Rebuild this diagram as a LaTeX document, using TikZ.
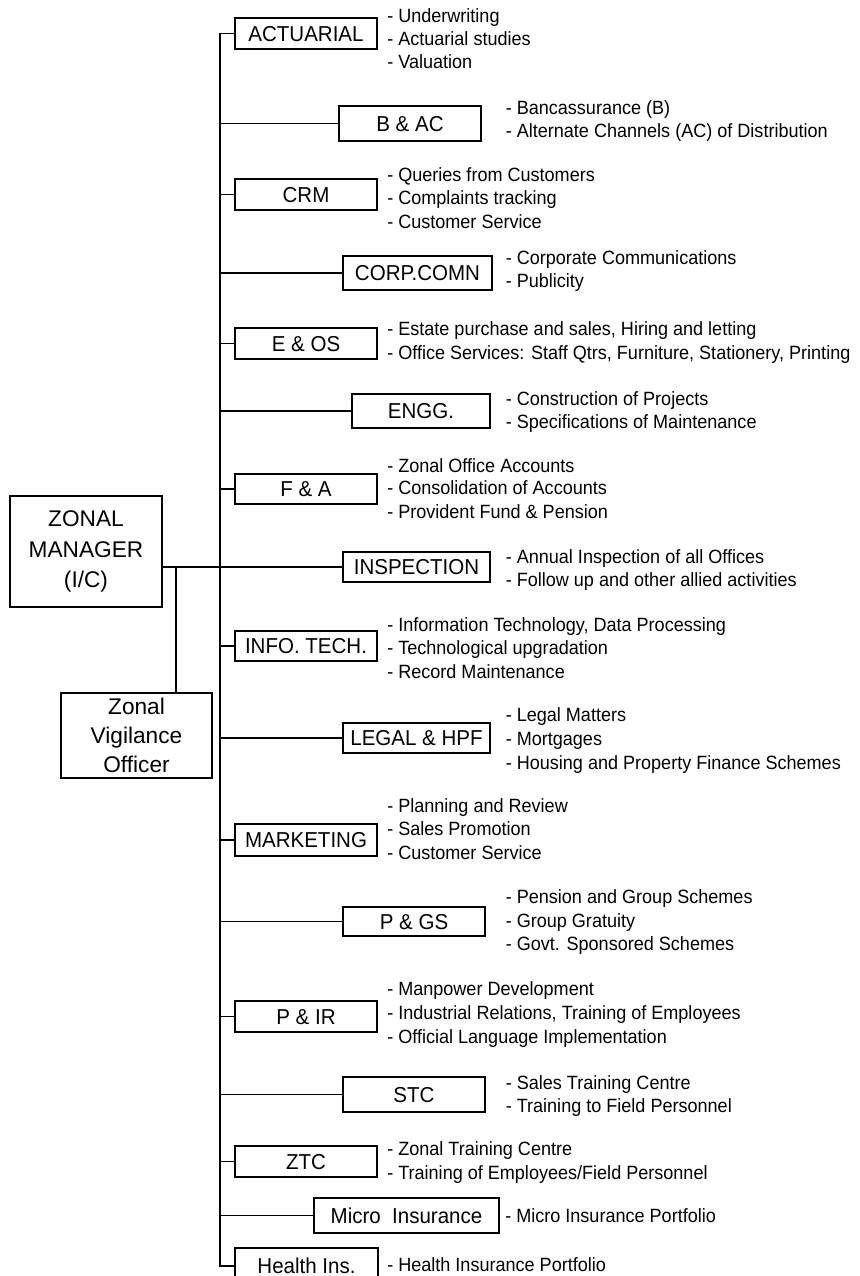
\documentclass[tikz,border=0pt]{standalone}
\usepackage{fontspec}
\setmainfont{Liberation Sans}
\newfontfamily\narrowsans[FakeStretch=0.94]{Liberation Sans}
\newfontfamily\unitsans[FakeStretch=0.95]{Liberation Sans}
\newcommand\boxfont{\unitsans\fontsize{16.2}{18}\selectfont}
\newcommand\bigfont{\fontsize{17}{22.6}\selectfont}
\newcommand\descfont{\narrowsans\fontsize{14.4}{16}\selectfont}
\begin{document}
\begin{tikzpicture}[x=0.75pt,y=-0.75pt,
  line/.style={line width=1.45pt,line join=miter},
  unit/.style={draw,line width=1.45pt,inner sep=0pt,font=\boxfont,
    text height=11.6pt,text depth=0pt,minimum width=142*0.75pt,minimum height=31*0.75pt},
  head/.style={draw,line width=1.45pt,inner sep=0pt,font=\bigfont,align=center},
  desc/.style={anchor=base west,inner sep=0pt,font=\descfont}]
\useasboundingbox (0,0) rectangle (859,1276);
\clip (0,0) rectangle (859,1276);

% heads
\node[head,minimum width=152*0.75pt,minimum height=111*0.75pt] (mgr) at (86,551.5) {ZONAL\\MANAGER\\(I/C)};
\node[head,minimum width=151*0.75pt,minimum height=85*0.75pt] (vig) at (136.5,735.5) {Zonal\\[-0.6pt]Vigilance\\[-0.6pt]Officer};

% departments
\node[unit] (act) at (306,33.5) {ACTUARIAL};
\node[unit,minimum height=35*0.75pt] (bac) at (410,123.5) {B \& AC};
\node[unit] (crm) at (306,194.5) {CRM};
\node[unit,minimum width=149*0.75pt,minimum height=34*0.75pt] (corp) at (417.5,273) {CORP.COMN};
\node[unit] (eos) at (306,343.5) {E \& OS};
\node[unit,minimum width=138*0.75pt,minimum height=34*0.75pt] (engg) at (421,411) {ENGG.};
\node[unit,minimum height=30*0.75pt] (fa) at (306,489) {F \& A};
\node[unit,minimum width=147*0.75pt,minimum height=30*0.75pt] (insp) at (416.5,567) {INSPECTION};
\node[unit,minimum height=30*0.75pt] (it) at (306,646) {INFO. TECH.};
\node[unit,minimum width=147*0.75pt,minimum height=30*0.75pt] (legal) at (416.5,738) {LEGAL \& HPF};
\node[unit,minimum height=32*0.75pt] (mkt) at (306,840) {MARKETING};
\node[unit,minimum height=29*0.75pt] (pgs) at (414,921.5) {P \& GS};
\node[unit] (pir) at (306,1016.5) {P \& IR};
\node[unit,minimum height=35*0.75pt] (stc) at (414,1094.5) {STC};
\node[unit] (ztc) at (306,1161.5) {ZTC};
\node[unit,minimum width=185*0.75pt,minimum height=35*0.75pt] (micro) at (406.5,1215.5) {Micro\ \ Insurance};
\node[unit,minimum width=143*0.75pt,minimum height=36*0.75pt] (hlth) at (306.5,1266) {Health Ins.};

% connectors
\coordinate (tr) at (220,0);
\coordinate (vb) at (176,0);
\draw[line] (act.west) -- (act.west -| tr) -- (hlth.west -| tr) -- (hlth.west);
\foreach \n in {bac,crm,corp,eos,engg,fa,it,legal,mkt,pgs,pir,stc,ztc,micro}
  \draw[line] (\n.west -| tr) -- (\n.west);
\draw[line] (mgr.east |- insp.west) -- (insp.west);
\draw[line] (vb |- insp.west) -- (vb |- vig.north);

% duties
\node[desc] (act1) at (387,23) {- Underwriting};
\node[desc] (act2) at (387,46) {- Actuarial studies};
\node[desc] (act3) at (387,69) {- Valuation};
\node[desc] (bac1) at (505.5,115) {- Bancassurance (B)};
\node[desc] (bac2) at (505.5,138) {- Alternate Channels (AC) of Distribution};
\node[desc] (crm1) at (387,182) {- Queries from Customers};
\node[desc] (crm2) at (387,205) {- Complaints tracking};
\node[desc] (crm3) at (387,229) {- Customer Service};
\node[desc] (corp1) at (505.5,265) {- Corporate Communications};
\node[desc] (corp2) at (505.5,288) {- Publicity};
\node[desc] (eos1) at (387,336) {- Estate purchase and sales, Hiring and letting};
\node[desc] (eos2) at (387,359) {- Office Services: Staff Qtrs, Furniture, Stationery, Printing};
\node[desc] (engg1) at (505.5,405) {- Construction of Projects};
\node[desc] (engg2) at (505.5,428) {- Specifications of Maintenance};
\node[desc] (fa1) at (387,472) {- Zonal Office Accounts};
\node[desc] (fa2) at (387,494.5) {- Consolidation of Accounts};
\node[desc] (fa3) at (387,518) {- Provident Fund \& Pension};
\node[desc] (insp1) at (505.5,563) {- Annual Inspection of all Offices};
\node[desc] (insp2) at (505.5,586) {- Follow up and other allied activities};
\node[desc] (it1) at (387,631) {- Information Technology, Data Processing};
\node[desc] (it2) at (387,654) {- Technological upgradation};
\node[desc] (it3) at (387,678) {- Record Maintenance};
\node[desc] (legal1) at (505.5,721) {- Legal Matters};
\node[desc] (legal2) at (505.5,745) {- Mortgages};
\node[desc] (legal3) at (505.5,769) {- Housing and Property Finance Schemes};
\node[desc] (mkt1) at (387,812) {- Planning and Review};
\node[desc] (mkt2) at (387,835) {- Sales Promotion};
\node[desc] (mkt3) at (387,859) {- Customer Service};
\node[desc] (pgs1) at (505.5,903) {- Pension and Group Schemes};
\node[desc] (pgs2) at (505.5,927) {- Group Gratuity};
\node[desc] (pgs3) at (505.5,950) {- Govt. Sponsored Schemes};
\node[desc] (pir1) at (387,995) {- Manpower Development};
\node[desc] (pir2) at (387,1019) {- Industrial Relations, Training of Employees};
\node[desc] (pir3) at (387,1043) {- Official Language Implementation};
\node[desc] (stc1) at (505.5,1089) {- Sales Training Centre};
\node[desc] (stc2) at (505.5,1112) {- Training to Field Personnel};
\node[desc] (ztc1) at (387,1155) {- Zonal Training Centre};
\node[desc] (ztc2) at (387,1179) {- Training of Employees/Field Personnel};
\node[desc] (micro1) at (505,1222) {- Micro Insurance Portfolio};
\node[desc] (hlth1) at (387,1271) {- Health Insurance Portfolio};
\end{tikzpicture}
\end{document}
